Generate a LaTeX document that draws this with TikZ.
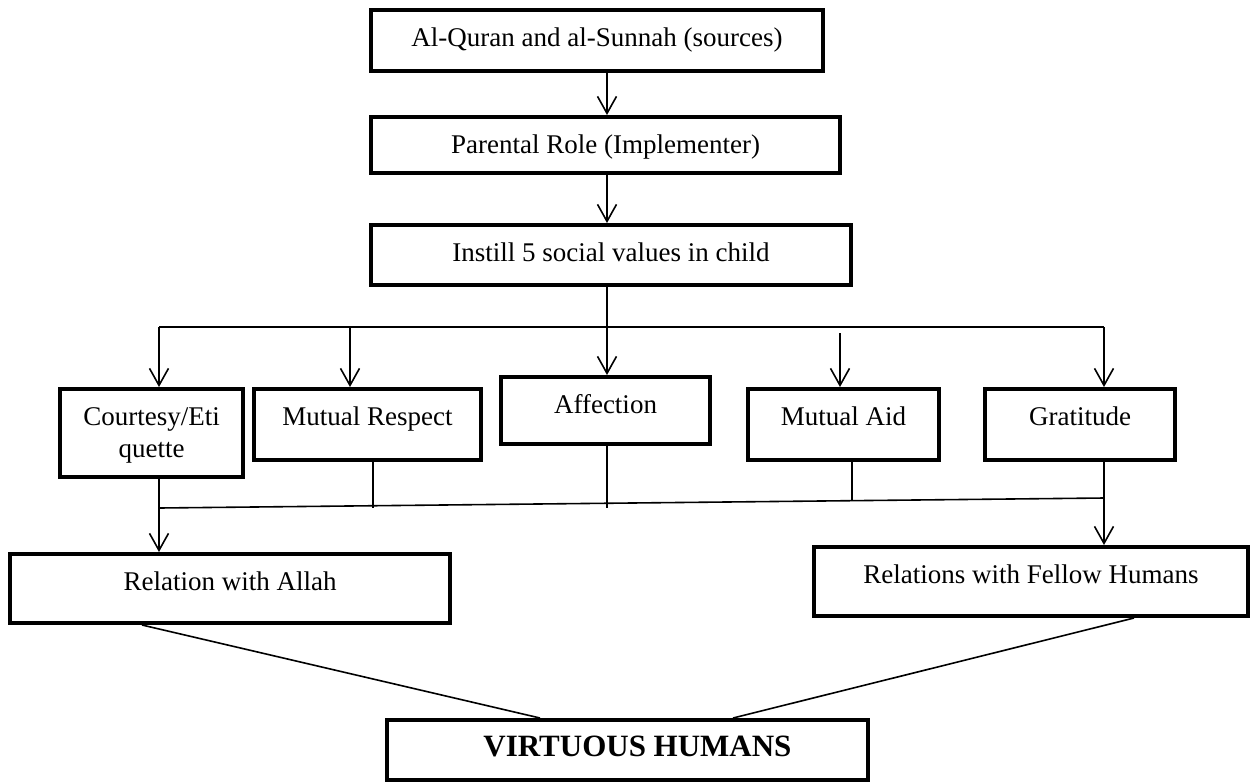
\documentclass[tikz,border=0pt]{standalone}
\usepackage{fontspec}
\setmainfont{Liberation Serif}
\usetikzlibrary{arrows.meta,calc}
\begin{document}
\begin{tikzpicture}[x=0.5pt,y=-0.5pt,
  box/.style={draw, line width=2pt, inner sep=0pt, anchor=north,
    text height=18pt, font=\fontsize{13.5}{16}\selectfont},
  link/.style={line width=0.8pt},
  arr/.style={link, -{Straight Barb[length=8.5pt,width=9.5pt]}}]
\useasboundingbox (0,0) rectangle (1254,783);

% top chain
\node[box, minimum width=226pt, text depth=12.5pt] (src) at (597,8) {Al-Quran and al-Sunnah (sources)};
\node[box, minimum width=234.5pt, text depth=10pt] (par) at (605.5,115) {Parental Role (Implementer)};
\node[box, minimum width=240pt, text depth=12pt] (ins) at (611,223) {Instill 5 social values in child};

% the five values
\node[box, minimum width=91.5pt, text depth=26pt] (cou) at (151.5,387)
  {\begin{tabular}[t]{@{}c@{}}Courtesy/Eti\\quette\end{tabular}};
\node[box, minimum width=113.5pt, text depth=17.5pt] (mr) at (367.5,387) {Mutual Respect};
\node[box, minimum width=104.5pt, text depth=15.5pt] (aff) at (605.5,375) {Affection};
\node[box, minimum width=95.5pt, text depth=17.5pt] (ma) at (843.5,387) {Mutual Aid};
\node[box, minimum width=95pt, text depth=17.5pt] (gra) at (1080,387) {Gratitude};

% relations
\node[box, minimum width=220pt, text depth=16.5pt] (rwa) at (230,552) {Relation with Allah};
\node[box, minimum width=217pt, text depth=16.5pt] (rfh) at (1031,545) {Relations with Fellow Humans};

% outcome
\node[box, minimum width=240.5pt, text depth=12pt, font=\fontsize{15.5}{18}\selectfont\bfseries] (vh) at (627.5,718) {\hspace*{10pt}VIRTUOUS HUMANS};

% guide coordinates
\coordinate (axis) at (607,0);
\coordinate (bl) at (159,327);
\coordinate (br) at (1104,327);
\coordinate (mrin) at (350,326);
\coordinate (main) at (840,333);
\coordinate (ll) at (159,508);
\coordinate (lr) at (1104,498);
\coordinate (mrend) at (373,508);
\coordinate (affend) at (607,508);
\coordinate (maend) at (852,500);

% vertical flow
\draw[arr] (src.south -| axis) -- (par.north -| axis);
\draw[arr] (par.south -| axis) -- (ins.north -| axis);
\draw[arr] (ins.south -| axis) -- (aff.north -| axis);

% distribution bar
\draw[link] (bl) -- (br);
\draw[arr] (bl) -- (cou.north -| bl);
\draw[arr] (mrin) -- (mr.north -| mrin);
\draw[arr] (main) -- (ma.north -| main);
\draw[arr] (br) -- (gra.north -| br);

% collection bar
\draw[link] (ll) -- (lr);
\draw[arr] (cou.south -| ll) -- (rwa.north -| ll);
\draw[link] (mr.south -| mrend) -- (mrend);
\draw[link] (aff.south -| affend) -- (affend);
\draw[link] (ma.south -| maend) -- (maend);
\draw[arr] (gra.south -| lr) -- (rfh.north -| lr);

% convergence
\draw[link] ($(rwa.south west)+(134,0)$) -- ($(vh.north west)+(155,0)$);
\draw[link] ($(rfh.south west)+(322,0)$) -- ($(vh.north west)+(348,0)$);
\end{tikzpicture}
\end{document}
